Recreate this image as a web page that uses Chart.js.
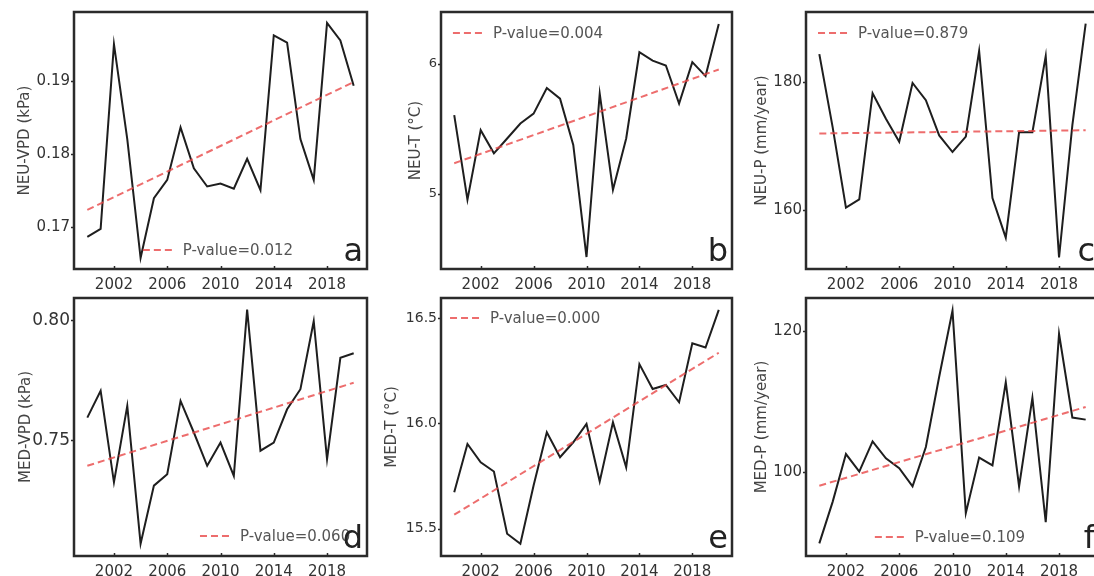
<!DOCTYPE html>
<html>
<head>
<meta charset="utf-8">
<script src="https://cdn.jsdelivr.net/npm/chart.js@4.4.1/dist/chart.umd.min.js"></script>
<style>
  html, body { margin: 0; padding: 0; background: #fff; width: 1094px; height: 576px; overflow: hidden; position: relative; }
  canvas { position: absolute; }
</style>
</head>
<body>
<script>
// ---- data ----
const years = [2000, 2001, 2002, 2003, 2004, 2005, 2006, 2007, 2008, 2009, 2010,
               2011, 2012, 2013, 2014, 2015, 2016, 2017, 2018, 2019, 2020];
const xTickYears = [2002, 2006, 2010, 2014, 2018];

const neuVpd = [0.1686, 0.1697, 0.1950, 0.1820, 0.1657, 0.1739, 0.1764, 0.1836, 0.1780, 0.1755, 0.1759,
                0.1752, 0.1793, 0.1750, 0.1962, 0.1952, 0.1820, 0.1764, 0.1979, 0.1955, 0.1893];
const neuT   = [5.606, 4.957, 5.491, 5.313, 5.427, 5.542, 5.618, 5.814, 5.733, 5.377, 4.517,
                5.771, 5.033, 5.427, 6.089, 6.025, 5.987, 5.695, 6.013, 5.906, 6.305];
const neuP   = [184.4, 173.0, 160.4, 161.7, 178.3, 174.3, 170.7, 179.9, 177.2, 171.7, 169.1,
                171.5, 184.9, 161.9, 155.7, 172.2, 172.2, 184.1, 152.6, 173.3, 189.2];
const medVpd = [0.7594, 0.7706, 0.7324, 0.7643, 0.7067, 0.7310, 0.7358, 0.7664, 0.7532, 0.7393, 0.7490,
                0.7351, 0.8046, 0.7456, 0.7490, 0.7629, 0.7713, 0.7997, 0.7421, 0.7844, 0.7863];
const medT   = [15.673, 15.902, 15.815, 15.771, 15.476, 15.428, 15.705, 15.957, 15.839, 15.910, 15.997,
                15.724, 16.005, 15.791, 16.281, 16.163, 16.182, 16.100, 16.380, 16.360, 16.539];
const medP   = [89.8, 95.7, 102.5, 100.0, 104.3, 101.9, 100.5, 97.9, 103.5, 113.5, 122.9,
                94.1, 102.0, 100.9, 112.7, 97.9, 110.5, 92.8, 119.6, 107.7, 107.4];

// linear trend lines: [value at 2000, value at 2020]
const neuVpdTrend = [0.1723, 0.1898];
const neuTTrend   = [5.237, 5.957];
const neuPTrend   = [172.0, 172.5];
const medVpdTrend = [0.7393, 0.7740];
const medTTrend   = [15.566, 16.335];
const medPTrend   = [98.0, 109.2];

const pValues = ['0.012', '0.004', '0.879', '0.060', '0.000', '0.109'];
const panelLetters = ['a', 'b', 'c', 'd', 'e', 'f'];
const yTitles = ['NEU-VPD (kPa)', 'NEU-T (\u00B0C)', 'NEU-P (mm/year)',
                 'MED-VPD (kPa)', 'MED-T (\u00B0C)', 'MED-P (mm/year)'];
const yTickValues = [[0.17, 0.18, 0.19], [5, 6], [160, 180],
                     [0.75, 0.80], [15.5, 16.0, 16.5], [100, 120]];
const yTickDecimals = [2, 0, 0, 2, 1, 0];
const yLimits = [[0.1642, 0.1994], [4.425, 6.398], [150.8, 191.0],
                 [0.7016, 0.8094], [15.37, 16.595], [88.0, 124.7]];

// ---- layout of the six panels (plot frame in page pixels) ----
const FONT = '"DejaVu Sans", sans-serif';
const panels = [
  { series: neuVpd, trend: neuVpdTrend, titleX: 25,  frame: [74, 12, 367, 269],  tickSize: 15, legend: [0.235, 0.926] },
  { series: neuT,   trend: neuTTrend,   titleX: 416, frame: [441, 12, 732, 269], tickSize: 13, legend: [0.041, 0.082] },
  { series: neuP,   trend: neuPTrend,   titleX: 762, frame: [806, 12, 1099, 269], tickSize: 15, legend: [0.041, 0.082] },
  { series: medVpd, trend: medVpdTrend, titleX: 26,  frame: [74, 298, 367, 556], tickSize: 17, legend: [0.43, 0.922] },
  { series: medT,   trend: medTTrend,   titleX: 392, frame: [441, 298, 732, 556], tickSize: 14, legend: [0.031, 0.078] },
  { series: medP,   trend: medPTrend,   titleX: 762, frame: [806, 298, 1099, 556], tickSize: 15, legend: [0.235, 0.926] }
];

const TOP_PAD = 8, RIGHT_PAD = 12, X_AXIS_H = 34, TITLE_OFFSET = 13;

// frame, small ticks, p-value legend and panel letter
const panelDecor = {
  id: 'panelDecor',
  afterDraw(chart, args, opts) {
    const ctx = chart.ctx;
    const a = chart.chartArea;
    const w = a.right - a.left, h = a.bottom - a.top;
    ctx.save();

    // tick marks
    ctx.strokeStyle = '#2b2b2b';
    ctx.lineWidth = 1.5;
    const ys = chart.scales.y, xs = chart.scales.x;
    ys.ticks.forEach(t => {
      const py = Math.round(ys.getPixelForValue(t.value)) + 0.5;
      ctx.beginPath(); ctx.moveTo(a.left - 3, py); ctx.lineTo(a.left, py); ctx.stroke();
    });
    xs.ticks.forEach(t => {
      const px = Math.round(xs.getPixelForValue(t.value)) + 0.5;
      ctx.beginPath(); ctx.moveTo(px, a.bottom); ctx.lineTo(px, a.bottom - 3); ctx.stroke();
    });

    // legend for the trend line
    const trendDs = chart.data.datasets[1];
    const lx = a.left + opts.legend[0] * w;
    const ly = a.top + opts.legend[1] * h;
    ctx.strokeStyle = trendDs.borderColor;
    ctx.lineWidth = trendDs.borderWidth;
    ctx.setLineDash(trendDs.borderDash);
    ctx.beginPath(); ctx.moveTo(lx, ly); ctx.lineTo(lx + 30, ly); ctx.stroke();
    ctx.setLineDash([]);
    ctx.fillStyle = '#555';
    ctx.font = '15px ' + FONT;
    ctx.textAlign = 'left';
    ctx.textBaseline = 'middle';
    ctx.fillText(trendDs.label, lx + 40, ly + 1);

    // panel letter
    ctx.fillStyle = '#222';
    ctx.font = '32px ' + FONT;
    ctx.textAlign = 'right';
    ctx.textBaseline = 'alphabetic';
    ctx.fillText(opts.letter, a.right - 4, a.bottom - 8);

    // frame
    ctx.strokeStyle = '#2b2b2b';
    ctx.lineWidth = 2.5;
    ctx.strokeRect(a.left, a.top, w, h);
    ctx.restore();
  }
};

panels.forEach((p, i) => {
  const [l, t, r, b] = p.frame;
  const canvasLeft = p.titleX - TITLE_OFFSET;
  const canvasTop = t - TOP_PAD;
  const cw = r - canvasLeft + RIGHT_PAD;
  const ch = (b - t) + TOP_PAD + X_AXIS_H;
  const yAxisW = l - canvasLeft;

  const canvas = document.createElement('canvas');
  canvas.width = cw; canvas.height = ch;
  canvas.style.left = canvasLeft + 'px';
  canvas.style.top = canvasTop + 'px';
  canvas.style.width = cw + 'px';
  canvas.style.height = ch + 'px';
  document.body.appendChild(canvas);

  new Chart(canvas, {
    type: 'line',
    data: {
      datasets: [
        {
          label: yTitles[i],
          data: years.map((yr, k) => ({ x: yr, y: p.series[k] })),
          borderColor: '#1e1e1e',
          borderWidth: 2,
          pointRadius: 0,
          tension: 0,
          order: 1
        },
        {
          label: 'P-value=' + pValues[i],
          data: [{ x: years[0], y: p.trend[0] }, { x: years[years.length - 1], y: p.trend[1] }],
          borderColor: 'rgba(232, 72, 72, 0.8)',
          borderWidth: 2,
          borderDash: [7, 4],
          pointRadius: 0,
          order: 0
        }
      ]
    },
    options: {
      responsive: false,
      animation: false,
      devicePixelRatio: 1,
      layout: { padding: { top: TOP_PAD, right: RIGHT_PAD, left: 0, bottom: 0 } },
      plugins: {
        legend: { display: false },
        tooltip: { enabled: false },
        panelDecor: { letter: panelLetters[i], legend: p.legend }
      },
      scales: {
        x: {
          type: 'linear',
          min: 1999, max: 2021,
          grid: { display: false, drawTicks: false },
          border: { display: false },
          afterBuildTicks: s => { s.ticks = xTickYears.map(v => ({ value: v })); },
          afterFit: s => { s.height = X_AXIS_H; s.paddingLeft = 0; s.paddingRight = 0; },
          ticks: {
            padding: 7,
            maxRotation: 0,
            autoSkip: false,
            color: '#333',
            font: { family: FONT, size: 15 },
            callback: v => String(v)
          }
        },
        y: {
          min: yLimits[i][0], max: yLimits[i][1],
          grid: { display: false, drawTicks: false },
          border: { display: false },
          afterBuildTicks: s => { s.ticks = yTickValues[i].map(v => ({ value: v })); },
          afterFit: s => { s.width = yAxisW; s.paddingTop = 0; s.paddingBottom = 0; },
          title: {
            display: true,
            text: yTitles[i],
            color: '#444',
            font: { family: FONT, size: 15 }
          },
          ticks: {
            padding: 4,
            autoSkip: false,
            color: '#333',
            font: { family: FONT, size: p.tickSize },
            callback: v => Number(v).toFixed(yTickDecimals[i])
          }
        }
      }
    },
    plugins: [panelDecor]
  });
});
</script>
</body>
</html>
